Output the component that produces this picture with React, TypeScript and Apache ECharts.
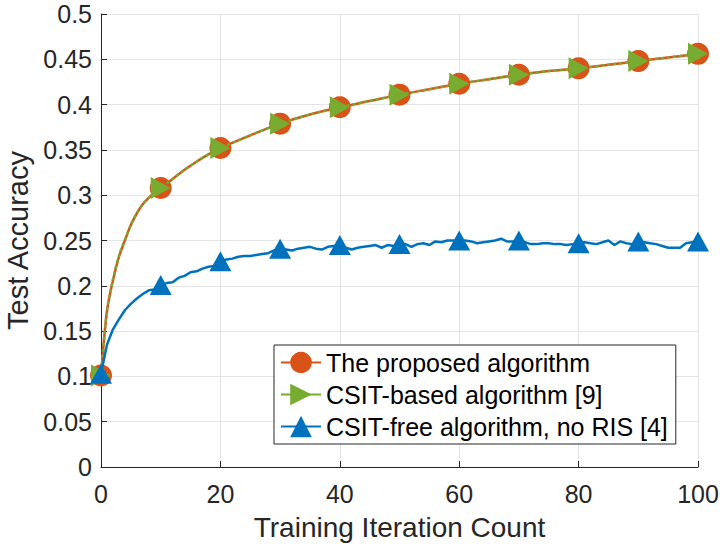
import React, { useEffect, useRef } from "react";
import * as echarts from "echarts";

// Proposed algorithm (orange) & CSIT-based (green): iteration -> accuracy
const propX = [0, 1, 2, 3, 4, 5, 6, 7, 8, 9, 10, 12, 14, 16, 18, 20, 25, 30, 35, 40, 45, 50, 55, 60, 65, 70, 75, 80, 85, 90, 95, 100];
const propY = [0.101, 0.172, 0.206, 0.232, 0.25, 0.267, 0.28, 0.29, 0.297, 0.303, 0.308, 0.318, 0.328, 0.337, 0.345, 0.352, 0.366, 0.379, 0.389, 0.397, 0.404, 0.411, 0.417, 0.423, 0.428, 0.433, 0.437, 0.44, 0.444, 0.448, 0.452, 0.456];
const csitY = [0.101, 0.173, 0.207, 0.233, 0.251, 0.267, 0.28, 0.29, 0.297, 0.303, 0.308, 0.318, 0.328, 0.337, 0.345, 0.352, 0.366, 0.379, 0.389, 0.397, 0.404, 0.411, 0.417, 0.423, 0.428, 0.433, 0.437, 0.44, 0.444, 0.448, 0.452, 0.456];

// CSIT-free, no RIS (blue): one value per iteration 0..100
const freeY = [
  0.103, 0.135, 0.152, 0.163, 0.173, 0.18, 0.186, 0.191, 0.195, 0.196,
  0.201, 0.203, 0.204, 0.209, 0.211, 0.215, 0.216, 0.219, 0.221, 0.222,
  0.227, 0.229, 0.23, 0.232, 0.233, 0.233, 0.234, 0.235, 0.236, 0.239,
  0.241, 0.24, 0.239, 0.241, 0.242, 0.243, 0.241, 0.24, 0.243, 0.244,
  0.245, 0.242, 0.24, 0.242, 0.243, 0.244, 0.245, 0.242, 0.245, 0.244,
  0.246, 0.246, 0.243, 0.246, 0.247, 0.245, 0.249, 0.248, 0.25, 0.25,
  0.25, 0.25, 0.249, 0.247, 0.248, 0.249, 0.25, 0.252, 0.249, 0.249,
  0.25, 0.248, 0.246, 0.246, 0.247, 0.247, 0.246, 0.246, 0.245, 0.246,
  0.247, 0.248, 0.247, 0.246, 0.248, 0.25, 0.245, 0.249, 0.247, 0.246,
  0.249, 0.248, 0.247, 0.246, 0.244, 0.242, 0.242, 0.242, 0.247, 0.248,
  0.249,
];

const markerEvery = 10;
const seriesNames = [
  "The proposed algorithm",
  "CSIT-based algorithm [9]",
  "CSIT-free algorithm, no RIS [4]",
];
const xTicks = { min: 0, max: 100, interval: 20 };
const yTicks = { min: 0, max: 0.5, interval: 0.05 };

const ORANGE = "#D95319";
const GREEN = "#77AC30";
const BLUE = "#0072BD";
const AXIS = "#262626";
const FONT = "'Liberation Sans', Arial, Helvetica, sans-serif";
const RIGHT_TRI = "path://M0,0 L10,5 L0,10 Z";

function withMarkers(xs: number[], ys: number[]) {
  return xs.map((x, i) =>
    x % markerEvery === 0 ? { value: [x, ys[i]] } : { value: [x, ys[i]], symbol: "none" }
  );
}

export default function App() {
  const ref = useRef<HTMLDivElement>(null);
  useEffect(() => {
    if (!ref.current) return;
    const chart = echarts.init(ref.current, null, { renderer: "svg" });
    const freeX = freeY.map((_, i) => i);
    chart.setOption({
      animation: false,
      backgroundColor: "#fff",
      textStyle: { fontFamily: FONT },
      grid: { left: 101, right: 22, top: 14, bottom: 77, containLabel: false, outerBoundsMode: "none" },
      xAxis: {
        type: "value",
        min: xTicks.min,
        max: xTicks.max,
        interval: xTicks.interval,
        name: "Training Iteration Count",
        nameLocation: "middle",
        nameGap: 46,
        nameTextStyle: { fontSize: 28, color: AXIS, fontFamily: FONT },
        axisLine: { show: true, onZero: false, lineStyle: { color: AXIS, width: 1 } },
        axisTick: { show: true, inside: true, length: 6, lineStyle: { color: AXIS } },
        axisLabel: { fontSize: 25, color: AXIS, margin: 14, fontFamily: FONT },
        splitLine: { show: true, lineStyle: { color: "#e5e5e5", width: 1 } },
      },
      yAxis: {
        type: "value",
        min: yTicks.min,
        max: yTicks.max,
        interval: yTicks.interval,
        name: "Test Accuracy",
        nameLocation: "middle",
        nameGap: 50,
        nameTextStyle: { fontSize: 29, color: AXIS, fontFamily: FONT },
        axisLine: { show: true, onZero: false, lineStyle: { color: AXIS, width: 1 } },
        axisTick: { show: true, inside: true, length: 6, lineStyle: { color: AXIS } },
        axisLabel: { fontSize: 25, color: AXIS, margin: 9, fontFamily: FONT },
        splitLine: { show: true, lineStyle: { color: "#e5e5e5", width: 1 } },
      },
      legend: {
        orient: "vertical",
        left: 274,
        top: 345,
        itemWidth: 40,
        itemHeight: 27,
        itemGap: 7,
        padding: [5, 8, 5, 6],
        backgroundColor: "#fff",
        borderColor: AXIS,
        borderWidth: 1,
        borderRadius: 0,
        textStyle: { fontSize: 25, color: "#000", fontFamily: FONT },
        data: [
          { name: seriesNames[0] },
          { name: seriesNames[1], lineStyle: { type: "solid" } },
          { name: seriesNames[2] },
        ],
      },
      series: [
        {
          name: seriesNames[0],
          type: "line",
          data: withMarkers(propX, propY),
          smooth: 0.3,
          symbol: "circle",
          symbolSize: 22,
          showAllSymbol: true,
          itemStyle: { color: ORANGE },
          lineStyle: { color: ORANGE, width: 2.5 },
          z: 2,
        },
        {
          name: seriesNames[1],
          type: "line",
          data: withMarkers(propX, csitY),
          smooth: 0.3,
          symbol: RIGHT_TRI,
          symbolSize: [20, 22],
          showAllSymbol: true,
          itemStyle: { color: GREEN },
          lineStyle: { color: GREEN, width: 2.5, type: [3, 3] },
          z: 3,
        },
        {
          name: seriesNames[2],
          type: "line",
          data: freeX.map((x, i) =>
            x % markerEvery === 0 ? { value: [x, freeY[i]] } : { value: [x, freeY[i]], symbol: "none" }
          ),
          symbol: "triangle",
          symbolSize: [22, 20],
          showAllSymbol: true,
          itemStyle: { color: BLUE },
          lineStyle: { color: BLUE, width: 2.5 },
          z: 4,
        },
      ],
    });
    return () => chart.dispose();
  }, []);
  return (
    <div
      ref={ref}
      style={{ position: "fixed", left: 0, top: 0, width: 720, height: 544, background: "#fff" }}
    />
  );
}
